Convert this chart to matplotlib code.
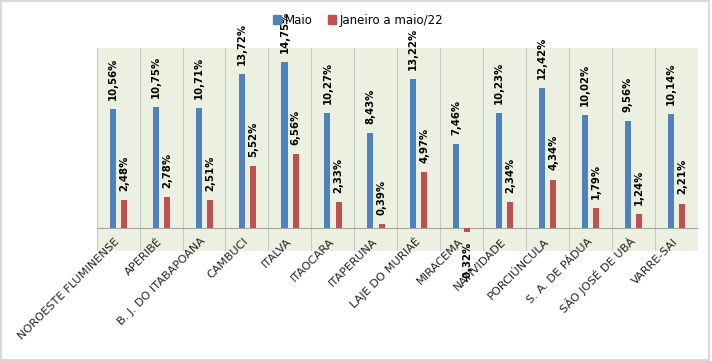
import matplotlib
matplotlib.use("Agg")
import matplotlib.pyplot as plt
import numpy as np
from matplotlib.patches import Patch, Rectangle

municipios = ["NOROESTE FLUMINENSE", "APERIBÉ", "B. J. DO ITABAPOANA", "CAMBUCI",
              "ITALVA", "ITAOCARA", "ITAPERUNA", "LAJE DO MURIAÉ", "MIRACEMA",
              "NATIVIDADE", "PORCIÚNCULA", "S. A. DE PÁDUA", "SÃO JOSÉ DE UBÁ",
              "VARRE-SAI"]
maio = [10.56, 10.75, 10.71, 13.72, 14.75, 10.27, 8.43, 13.22, 7.46,
        10.23, 12.42, 10.02, 9.56, 10.14]
jan_maio = [2.48, 2.78, 2.51, 5.52, 6.56, 2.33, 0.39, 4.97, -0.32,
            2.34, 4.34, 1.79, 1.24, 2.21]
series = ["Maio", "Janeiro a maio/22"]

BLUE, RED = "#4F81BD", "#C0504D"

fig = plt.figure(figsize=(7.12, 3.61), dpi=100)
fig.patches.append(Rectangle((0.002, 0.003), 0.994, 0.994, transform=fig.transFigure,
                             fill=False, edgecolor="#d9d9d9", linewidth=1.5))
ax = fig.add_axes([0.1358, 0.3047, 0.8441, 0.5623])
ax.set_facecolor("#ECF0E1")

x = np.arange(len(municipios))
w = 0.14
b1 = ax.bar(x - 0.125, maio, w, color=BLUE, zorder=3)
b2 = ax.bar(x + 0.135, jan_maio, w, color=RED, zorder=3)

def fmt(v):
    return f"{v:.2f}".replace(".", ",") + "%"

for bars, vals in ((b1, maio), (b2, jan_maio)):
    for rect, v in zip(bars, vals):
        cx = rect.get_x() + rect.get_width() / 2
        if v >= 0:
            ax.annotate(fmt(v), (cx, v), xytext=(0, 6.5), textcoords="offset points",
                        rotation=90, ha="center", va="bottom", fontsize=7.3,
                        fontweight="bold", annotation_clip=False, zorder=5)
        else:
            ax.annotate(fmt(v), (cx, v), xytext=(0, -7), textcoords="offset points",
                        rotation=90, ha="center", va="top", fontsize=7.3,
                        fontweight="bold", annotation_clip=False, zorder=5)

ax.set_xlim(-0.5, len(municipios) - 0.5)
ax.set_ylim(-2, 16)
ax.set_yticks([])
for b in np.arange(-0.5, len(municipios), 1.0):
    ax.axvline(b, color="#c8c8c8", linewidth=0.8, zorder=1)
ax.axhline(0, color="#a6a6a6", linewidth=0.8, zorder=2)

# posição do eixo antes dos rótulos (set_position recria os ticks)
ax.spines["bottom"].set_position(("data", -1.0))
for s in ax.spines.values():
    s.set_visible(False)

ax.set_xticks(x)
ax.set_xticklabels(municipios, rotation=45, ha="right", rotation_mode="anchor",
                   fontsize=8.2, color="#222222")
ax.tick_params(axis="x", length=0, pad=0)
for lbl in ax.get_xticklabels():
    lbl.set_va("center")

handles = [Patch(color=BLUE), Patch(color=RED)]
fig.legend(handles, series, loc="center", bbox_to_anchor=(0.503, 0.944), ncol=2,
           frameon=False, fontsize=8.5, handlelength=0.7, handleheight=0.7,
           handletextpad=0.3, columnspacing=1.3)

fig.savefig("out.png", dpi=100)
